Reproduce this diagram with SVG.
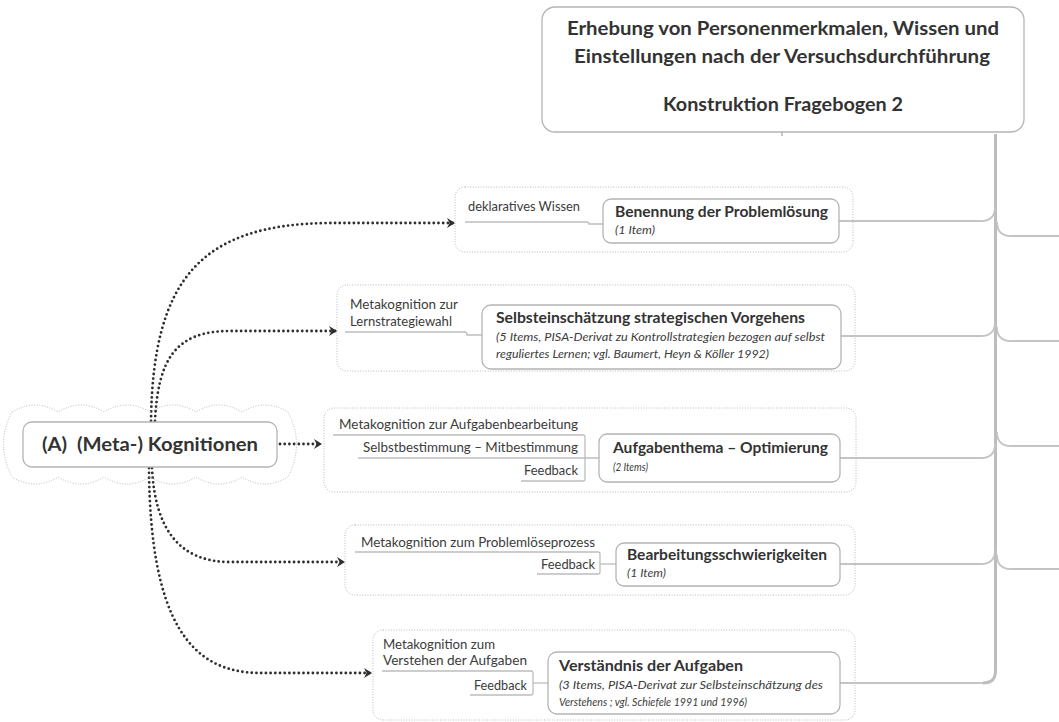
<svg xmlns="http://www.w3.org/2000/svg" width="1059" height="722" viewBox="0 0 1059 722">
  <style>
    .bg { fill: #ffffff; }
    .node { fill: #ffffff; stroke: #b4b4b4; stroke-width: 1.3; }
    .grp { fill: none; stroke: #b8b8b8; stroke-width: 1; stroke-dasharray: 1 1.6; }
    .tree { fill: none; stroke: #c4c4c4; stroke-width: 1.8; }
    .trunk { fill: none; stroke: #bdbdbd; stroke-width: 3; }
    .lab { fill: none; stroke: #bdbdbd; stroke-width: 1.3; }
    .rel { fill: none; stroke: #2e2e2e; stroke-width: 2.8; stroke-dasharray: 0 4.7; stroke-linecap: round; }
    text { font-family: Lato, "Open Sans", "Liberation Sans", sans-serif; fill: #333333; }
    .t-main { font-size: 18px; font-weight: bold; }
    .t-root { font-size: 19px; font-weight: bold; }
    .t-title { font-size: 15.5px; font-weight: bold; }
    .t-lab { font-size: 12.5px; fill: #3c3c3c; }
    .t-note { font-size: 11.5px; font-style: italic; fill: #3c3c3c; }
  </style>
  <defs>
    <marker id="chev" markerWidth="10" markerHeight="11" refX="8" refY="5" orient="auto" markerUnits="userSpaceOnUse">
      <path d="M0,0 L8,5 L0,10 L2.6,5 Z" fill="#2e2e2e"/>
    </marker>
  </defs>

  <rect class="bg" x="0" y="0" width="1059" height="722"/>

  <!-- tree connectors from the questionnaire node -->
  <g id="connectors">
    <path class="tree" d="M782 132 V136"/>
    <path class="trunk" d="M995.5 134 V671 Q995.5 683 983 683"/>
    <!-- branches to the left-hand nodes -->
    <path class="tree" d="M839 221 H981 Q995 221 995 207"/>
    <path class="tree" d="M841 336 H981 Q995 336 995 322"/>
    <path class="tree" d="M840 458 H981 Q995 458 995 444"/>
    <path class="tree" d="M840 564 H981 Q995 564 995 550"/>
    <path class="tree" d="M840 683 H983"/>
    <!-- branches to the right (off the page) -->
    <path class="tree" d="M997 222 Q997 236 1011 236 H1059"/>
    <path class="tree" d="M997 327 Q997 341 1011 341 H1059"/>
    <path class="tree" d="M997 432 Q997 446 1011 446 H1059"/>
    <path class="tree" d="M997 555 Q997 569 1011 569 H1059"/>

    <!-- dotted relationship arrows from the root topic -->
    <path class="rel" marker-end="url(#chev)" d="M151 421 C153 280 200 224 330 223 L455 223"/>
    <path class="rel" marker-end="url(#chev)" d="M155 421 C158 360 175 331 230 331 L337 331"/>
    <path class="rel" marker-end="url(#chev)" d="M280 444 L322 444"/>
    <path class="rel" marker-end="url(#chev)" d="M152 468 C155 530 180 562 230 562 L345 562"/>
    <path class="rel" marker-end="url(#chev)" d="M149 468 C150 620 190 673 260 673 L372 673"/>
  </g>

  <!-- questionnaire header -->
  <g id="node-fragebogen">
    <rect class="node" x="542" y="7" width="482" height="125" rx="13"/>
    <text class="t-main" x="567" y="35" textLength="432" lengthAdjust="spacingAndGlyphs">Erhebung von Personenmerkmalen, Wissen und</text>
    <text class="t-main" x="574" y="63" textLength="416" lengthAdjust="spacingAndGlyphs">Einstellungen nach der Versuchsdurchführung</text>
    <text class="t-main" x="663" y="111" textLength="240" lengthAdjust="spacingAndGlyphs">Konstruktion Fragebogen 2</text>
  </g>

  <!-- root topic with cloud boundary -->
  <g id="node-kognitionen">
    <path class="grp" d="M12 412 Q35 398 58 412 Q81 398 104 412 Q127 398 150 412 Q173 398 196 412 Q219 398 242 412 Q265 398 288 412 Q305 444 288 477 Q265 491 242 477 Q219 491 196 477 Q173 491 150 477 Q127 491 104 477 Q81 491 58 477 Q35 491 12 477 Q-5 444 12 412 Z"/>
    <rect class="node" x="23" y="422" width="254" height="45" rx="9"/>
    <text class="t-root" x="42" y="451" textLength="216" lengthAdjust="spacingAndGlyphs">(A)&#160; (Meta-) Kognitionen</text>
  </g>

  <!-- 1: declarative knowledge -->
  <g id="node-benennung">
    <rect class="grp" x="455" y="187" width="398" height="65" rx="10"/>
    <text class="t-lab" x="468" y="211" textLength="112" lengthAdjust="spacingAndGlyphs">deklaratives Wissen</text>
    <path class="lab" d="M465 222 H587 Q589 222 589 224 H603"/>
    <rect class="node" x="603" y="199" width="236" height="44" rx="8"/>
    <text class="t-title" x="615" y="217" textLength="213" lengthAdjust="spacingAndGlyphs">Benennung der Problemlösung</text>
    <text class="t-note" x="615" y="234" textLength="40" lengthAdjust="spacingAndGlyphs">(1 Item)</text>
  </g>

  <!-- 2: learning strategy -->
  <g id="node-selbsteinschaetzung">
    <rect class="grp" x="337" y="285" width="518" height="86" rx="10"/>
    <text class="t-lab" x="350" y="309" textLength="108" lengthAdjust="spacingAndGlyphs">Metakognition zur</text>
    <text class="t-lab" x="350" y="326" textLength="102" lengthAdjust="spacingAndGlyphs">Lernstrategiewahl</text>
    <path class="lab" d="M345 332 H465 Q467 332 467 335 H482"/>
    <rect class="node" x="482" y="305" width="359" height="64" rx="9"/>
    <text class="t-title" x="496" y="323" textLength="309" lengthAdjust="spacingAndGlyphs">Selbsteinschätzung strategischen Vorgehens</text>
    <text class="t-note" x="496" y="341" textLength="329" lengthAdjust="spacingAndGlyphs">(5 Items, PISA-Derivat zu Kontrollstrategien bezogen auf selbst</text>
    <text class="t-note" x="496" y="358" textLength="273" lengthAdjust="spacingAndGlyphs">reguliertes Lernen; vgl. Baumert, Heyn &amp; Köller 1992)</text>
  </g>

  <!-- 3: task processing -->
  <g id="node-aufgabenthema">
    <rect class="grp" x="324" y="408" width="532" height="84" rx="10"/>
    <text class="t-lab" x="339" y="429" textLength="239" lengthAdjust="spacingAndGlyphs">Metakognition zur Aufgabenbearbeitung</text>
    <text class="t-lab" x="363" y="452" textLength="215" lengthAdjust="spacingAndGlyphs">Selbstbestimmung – Mitbestimmung</text>
    <text class="t-lab" x="524" y="475" textLength="54" lengthAdjust="spacingAndGlyphs">Feedback</text>
    <path class="lab" d="M333 435 H583 Q585 435 585 437 V479 Q585 481 583 481 H521"/>
    <path class="lab" d="M358 458 H599"/>
    <rect class="node" x="599" y="434" width="241" height="48" rx="8"/>
    <text class="t-title" x="613" y="453" textLength="215" lengthAdjust="spacingAndGlyphs">Aufgabenthema – Optimierung</text>
    <text class="t-note" x="613" y="471" textLength="35" lengthAdjust="spacingAndGlyphs">(2 Items)</text>
  </g>

  <!-- 4: problem solving process -->
  <g id="node-bearbeitung">
    <rect class="grp" x="345" y="525" width="510" height="70" rx="10"/>
    <text class="t-lab" x="361" y="547" textLength="234" lengthAdjust="spacingAndGlyphs">Metakognition zum Problemlöseprozess</text>
    <text class="t-lab" x="541" y="569" textLength="54" lengthAdjust="spacingAndGlyphs">Feedback</text>
    <path class="lab" d="M355 552 H598 Q600 552 600 554 V572 Q600 574 598 574 H537"/>
    <path class="lab" d="M600 564 H616"/>
    <rect class="node" x="616" y="543" width="224" height="43" rx="8"/>
    <text class="t-title" x="627" y="560" textLength="200" lengthAdjust="spacingAndGlyphs">Bearbeitungsschwierigkeiten</text>
    <text class="t-note" x="627" y="577" textLength="39" lengthAdjust="spacingAndGlyphs">(1 Item)</text>
  </g>

  <!-- 5: understanding the tasks -->
  <g id="node-verstaendnis">
    <rect class="grp" x="373" y="630" width="482" height="90" rx="10"/>
    <text class="t-lab" x="383" y="649" textLength="112" lengthAdjust="spacingAndGlyphs">Metakognition zum</text>
    <text class="t-lab" x="383" y="665" textLength="144" lengthAdjust="spacingAndGlyphs">Verstehen der Aufgaben</text>
    <text class="t-lab" x="474" y="690" textLength="53" lengthAdjust="spacingAndGlyphs">Feedback</text>
    <path class="lab" d="M382 671 H531 Q533 671 533 673 V693 Q533 695 531 695 H470"/>
    <path class="lab" d="M533 683 H548"/>
    <rect class="node" x="548" y="652" width="292" height="62" rx="9"/>
    <text class="t-title" x="559" y="671" textLength="184" lengthAdjust="spacingAndGlyphs">Verständnis der Aufgaben</text>
    <text class="t-note" x="559" y="689" textLength="264" lengthAdjust="spacingAndGlyphs">(3 Items, PISA-Derivat zur Selbsteinschätzung des</text>
    <text class="t-note" x="559" y="706" textLength="188" lengthAdjust="spacingAndGlyphs">Verstehens ; vgl. Schiefele 1991 und 1996)</text>
  </g>
</svg>
